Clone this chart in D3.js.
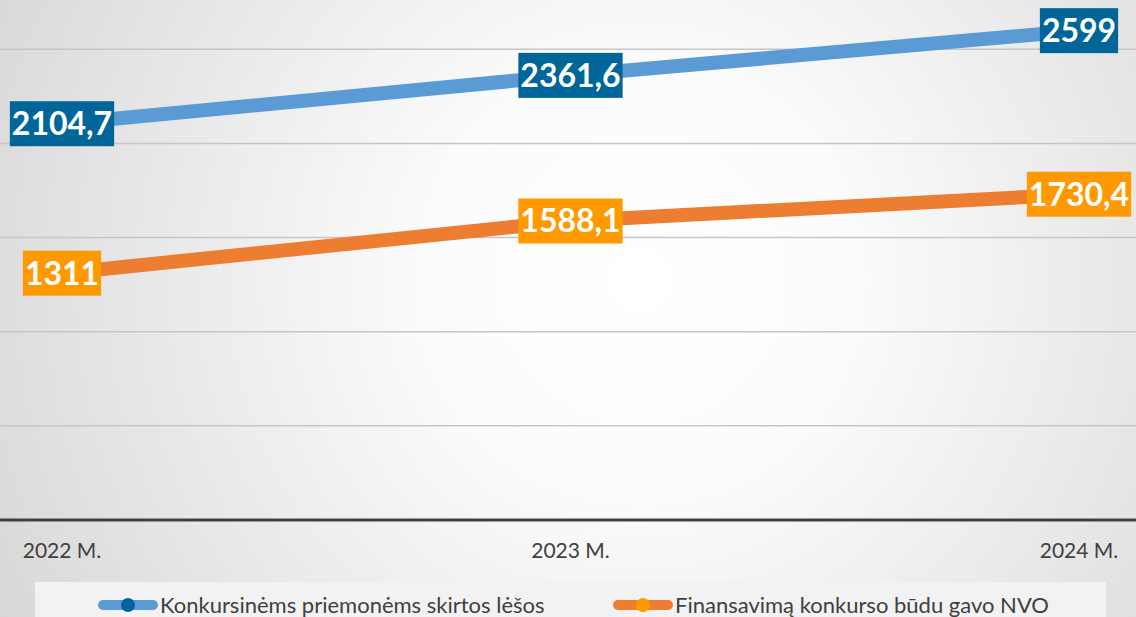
<!DOCTYPE html>
<html>
<head>
<meta charset="utf-8">
<script src="https://cdn.jsdelivr.net/npm/d3@7"></script>
<style>
  html, body { margin: 0; padding: 0; background: #fff; }
  svg { display: block; }
</style>
</head>
<body>
<svg id="chart" width="1136" height="617"></svg>
<script>
const years = ["2022 M.", "2023 M.", "2024 M."];
const seriesNames = ["Konkursinėms priemonėms skirtos lėšos", "Finansavimą konkurso būdu gavo NVO"];
const budgetValues = [2104.7, 2361.6, 2599];
const ngoValues = [1311, 1588.1, 1730.4];
const gridTicks = [0, 500, 1000, 1500, 2000, 2500];

const lineColors = ["#5b9bd5", "#ed7d31"];
const labelColors = ["#006699", "#ff9900"];

const svg = d3.select("#chart");
const W = 1136, H = 617;

// background radial gradient
const defs = svg.append("defs");
const grad = defs.append("radialGradient")
  .attr("id", "bg")
  .attr("gradientUnits", "userSpaceOnUse")
  .attr("cx", 640).attr("cy", 280).attr("r", 720);
grad.append("stop").attr("offset", "0%").attr("stop-color", "#ffffff");
grad.append("stop").attr("offset", "30%").attr("stop-color", "#fbfbfb");
grad.append("stop").attr("offset", "100%").attr("stop-color", "#d8d8d8");

svg.append("rect").attr("width", W).attr("height", H).attr("fill", "url(#bg)");

const x = d3.scalePoint()
  .domain(years)
  .range([62, 1079]);

const y = d3.scaleLinear()
  .domain([0, 2500])
  .range([520, 49.3]);

// gridlines
svg.append("g")
  .selectAll("line")
  .data(gridTicks.filter(d => d > 0))
  .join("line")
    .attr("x1", 0)
    .attr("x2", W)
    .attr("y1", d => y(d))
    .attr("y2", d => y(d))
    .attr("stroke", "#c6c6c6")
    .attr("stroke-width", 1.5);

// x axis line
svg.append("line")
  .attr("x1", 0).attr("x2", W)
  .attr("y1", y(0)).attr("y2", y(0))
  .attr("stroke", "#404040")
  .attr("stroke-width", 3);

// x labels
svg.append("g")
  .selectAll("text")
  .data(years)
  .join("text")
    .attr("x", d => x(d))
    .attr("y", 558)
    .attr("text-anchor", "middle")
    .style("font-family", "Lato")
    .style("font-size", "21px")
    .attr("fill", "#404040")
    .text(d => d);

const allSeries = [budgetValues, ngoValues];

const line = d3.line()
  .x((d, i) => x(years[i]))
  .y(d => y(d));

allSeries.forEach((vals, s) => {
  svg.append("path")
    .datum(vals)
    .attr("d", line)
    .attr("fill", "none")
    .attr("stroke", lineColors[s])
    .attr("stroke-width", 14);

  svg.append("g")
    .selectAll("circle")
    .data(vals)
    .join("circle")
      .attr("cx", (d, i) => x(years[i]))
      .attr("cy", d => y(d))
      .attr("r", 9)
      .attr("fill", labelColors[s]);
});

// data labels
const fmt = v => String(v).replace(".", ",");
allSeries.forEach((vals, s) => {
  vals.forEach((v, i) => {
    const g = svg.append("g");
    const cx = x(years[i]), cy = y(v);
    const rect = g.append("rect").attr("fill", labelColors[s]);
    const t = g.append("text")
      .attr("x", cx)
      .attr("y", cy + 11.5)
      .attr("text-anchor", "middle")
      .style("font-family", "Lato")
      .style("font-weight", "bold")
      .style("font-size", "32px")
      .attr("fill", "#ffffff")
      .text(fmt(v));
    const w = t.node().getBBox().width + 4;
    rect.attr("x", cx - w / 2).attr("y", cy - 22.5)
      .attr("width", w).attr("height", 45);
  });
});

// legend
svg.append("rect")
  .attr("x", 35).attr("y", 582)
  .attr("width", 1071).attr("height", 40)
  .attr("fill", "#f2f2f2");

const legendX = [98, 613];
seriesNames.forEach((name, s) => {
  const lg = svg.append("g").attr("transform", `translate(${legendX[s]},605)`);
  lg.append("line")
    .attr("x1", 5).attr("x2", 55)
    .attr("stroke", lineColors[s])
    .attr("stroke-width", 10)
    .attr("stroke-linecap", "round");
  lg.append("circle")
    .attr("cx", 30).attr("r", 7)
    .attr("fill", labelColors[s]);
  lg.append("text")
    .attr("x", 62)
    .attr("y", 8)
    .style("font-family", "Lato")
    .style("font-size", "22px")
    .attr("fill", "#404040")
    .text(name);
});
</script>
</body>
</html>
